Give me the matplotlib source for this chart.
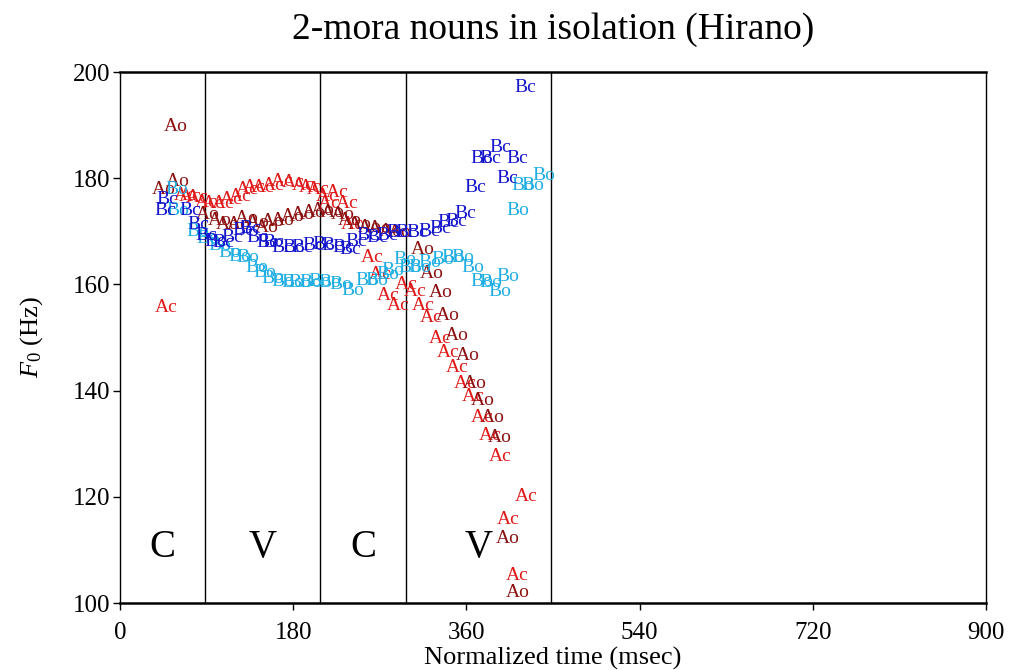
import numpy as np
import matplotlib
matplotlib.use("Agg")
import matplotlib.pyplot as plt

plt.rcParams['font.family'] = ['Liberation Serif', 'DejaVu Serif']
plt.rcParams['mathtext.fontset'] = 'custom'
plt.rcParams['mathtext.it'] = 'Liberation Serif:italic'
plt.rcParams['mathtext.rm'] = 'Liberation Serif'

# segment boundaries (msec) and segment labels
bounds = [88, 208, 297, 448]
seg_labels = ["C", "V", "C", "V"]

# Ao tokens (time, F0)
ao_t = [58, 45, 60, 91, 104, 112, 123, 132, 143, 153, 159, 169, 180, 190, 201, 211,
        221, 231, 239, 249, 260, 270, 281, 291, 315, 324, 333, 341, 350, 361, 369,
        377, 387, 395, 403, 413]
ao_f = [189.8, 177.8, 179.3, 173.1, 172.1, 171.2, 171.2, 172.5, 171.6, 170.8, 171.8,
        172.1, 172.7, 173.1, 173.6, 174.0, 173.6, 173.1, 172.1, 171.2, 170.8, 170.6,
        169.9, 169.7, 166.5, 162.1, 158.4, 154.2, 150.3, 146.7, 141.4, 138.2, 135.0,
        131.1, 112.2, 101.9]

# Ac tokens
ac_t = [48, 68, 73, 80, 90, 97, 107, 116, 125, 132, 140, 149, 159, 169, 180, 190,
        198, 206, 215, 226, 218, 236, 241, 262, 270, 279, 289, 298, 307, 315, 324,
        333, 341, 350, 359, 367, 376, 385, 395, 422, 403, 413]
ac_f = [155.7, 176.8, 176.5, 176.3, 175.5, 175.3, 175.3, 175.9, 176.5, 177.8, 178.2,
        178.2, 178.7, 179.3, 179.1, 178.7, 178.2, 177.8, 176.5, 177.4, 175.3, 175.3,
        171.2, 165.0, 161.8, 158.0, 156.1, 159.9, 158.6, 156.1, 153.7, 149.9, 147.1,
        144.4, 141.4, 138.8, 135.0, 131.6, 127.5, 120.0, 115.8, 105.1]

# Bo tokens
bo_t = [59, 60, 81, 91, 104, 114, 125, 133, 142, 151, 159, 169, 180, 187, 198, 208,
        218, 229, 242, 257, 267, 278, 284, 296, 301, 312, 322, 336, 346, 356, 367,
        376, 385, 395, 403, 413, 419, 429, 440]
bo_f = [177.8, 174.0, 169.9, 168.7, 167.4, 166.1, 165.2, 165.0, 163.1, 162.3, 161.2,
        160.5, 160.3, 160.3, 160.3, 160.5, 160.3, 159.9, 158.9, 160.8, 160.8, 161.8,
        162.7, 164.6, 163.1, 163.1, 164.2, 164.6, 165.0, 165.0, 163.1, 160.5, 160.3,
        158.6, 161.4, 174.0, 178.7, 178.7, 180.6]

# Bc tokens
bc_t = [49, 47, 73, 81, 90, 99, 107, 117, 128, 135, 143, 153, 159, 169, 180, 190,
        201, 211, 221, 232, 239, 246, 257, 267, 278, 288, 298, 309, 322, 333, 341,
        350, 359, 369, 376, 385, 395, 413, 403, 421]
bc_f = [175.9, 174.0, 174.0, 171.2, 169.3, 168.0, 167.8, 168.9, 170.2, 170.6, 168.9,
        167.8, 167.8, 167.0, 166.9, 167.0, 167.4, 167.6, 167.4, 167.0, 166.5, 168.0,
        169.3, 168.9, 169.3, 169.7, 169.7, 169.7, 169.9, 170.6, 171.6, 171.8, 173.4,
        178.3, 183.8, 183.8, 185.7, 183.8, 180.0, 197.0]

series = [("Ac", ac_t, ac_f, "#e01818"),
          ("Ao", ao_t, ao_f, "#8c1010"),
          ("Bo", bo_t, bo_f, "#1faee3"),
          ("Bc", bc_t, bc_f, "#1414cc")]

fig = plt.figure(figsize=(10.1, 6.7), dpi=100)
ax = fig.add_axes([0.1188, 0.1, 0.8574, 0.7925])

for lab, tt, ff, col in series:
    for t, f in zip(tt, ff):
        ax.text(t, f, lab, color=col, fontsize=14, ha='center', va='center')

for b in bounds:
    ax.axvline(b, color='black', lw=1.0)

edges = [0] + bounds
for i, s in enumerate(seg_labels):
    ax.text((edges[i] + edges[i + 1]) / 2, 110.5, s, fontsize=28,
            ha='center', va='center', color='black')

ax.set_xlim(0, 900)
ax.set_ylim(100, 200)
ax.set_xticks(np.arange(0, 901, 180))
ax.set_yticks(np.arange(100, 201, 20))
ax.tick_params(labelsize=18, direction='out', length=5, width=1)
ax.tick_params(axis='x', pad=9)
ax.tick_params(axis='y', pad=2)
for side in ['top', 'bottom']:
    ax.spines[side].set_linewidth(1.8)
for side in ['left', 'right']:
    ax.spines[side].set_linewidth(1.0)

ax.set_xlabel("Normalized time (msec)", fontsize=19, labelpad=2)
ax.set_ylabel("$F_0$ (Hz)", fontsize=19, labelpad=20)
ax.set_title("2-mora nouns in isolation (Hirano)", fontsize=27, pad=24)

fig.savefig("out.png", dpi=100)
